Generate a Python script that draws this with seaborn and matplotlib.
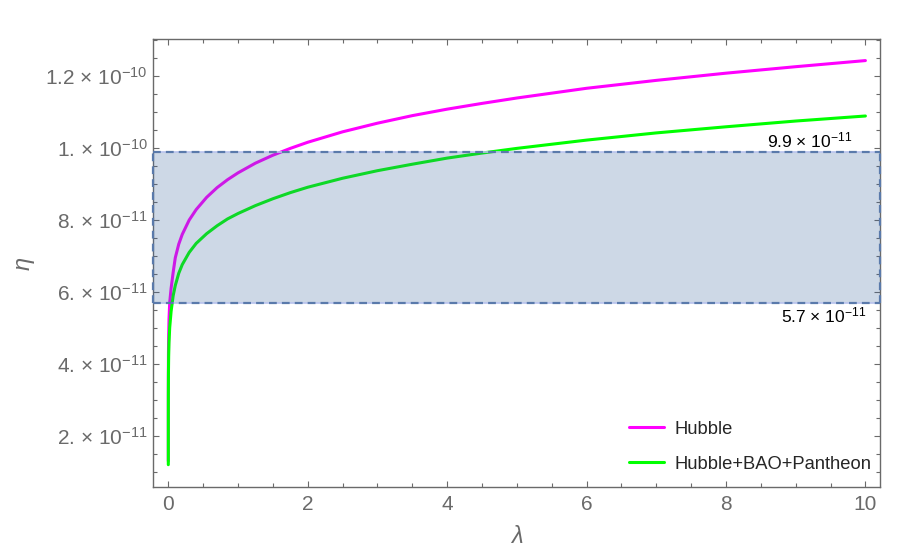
import matplotlib
matplotlib.use("Agg")
import matplotlib.pyplot as plt
from matplotlib.ticker import FixedLocator, FixedFormatter, MultipleLocator
import pandas as pd
import seaborn as sns

# values (eta in units of 1e-11)
lam = [0.0, 0.0001, 0.0005, 0.002, 0.005, 0.01, 0.02, 0.04, 0.07, 0.1, 0.15, 0.2,
       0.3, 0.4, 0.55, 0.7, 0.85, 1.0, 1.25, 1.5, 1.75, 2.0, 2.5, 3.0, 3.5, 4.0,
       4.5, 5.0, 6.0, 7.0, 8.0, 9.0, 10.0]
eta_hubble = [1.3, 2.95, 3.6, 4.28, 4.8, 5.24, 5.71, 6.1, 6.55, 6.95, 7.33, 7.6,
              8.0, 8.29, 8.63, 8.9, 9.12, 9.31, 9.58, 9.8, 9.99, 10.16, 10.45, 10.69, 10.9, 11.08,
              11.24, 11.39, 11.66, 11.88, 12.08, 12.26, 12.43]
eta_joint = [1.2, 2.58, 3.16, 3.76, 4.21, 4.59, 5.01, 5.46, 5.9, 6.18, 6.52, 6.76,
             7.1, 7.35, 7.62, 7.84, 8.03, 8.18, 8.4, 8.59, 8.76, 8.91, 9.16, 9.37, 9.55, 9.72,
             9.86, 9.99, 10.22, 10.42, 10.59, 10.75, 10.89]
series_names = ["Hubble", "Hubble+BAO+Pantheon"]
series_colors = ["#FF00FF", "#00FF00"]

band_low = 5.7e-11
band_high = 9.9e-11
band_labels = ["5.7 \u00d7 10$^{-11}$", "9.9 \u00d7 10$^{-11}$"]

x_ticks = [0, 2, 4, 6, 8, 10]
y_ticks = [2e-11, 4e-11, 6e-11, 8e-11, 1e-10, 1.2e-10]
y_tick_labels = ["2. \u00d7 10$^{-11}$", "4. \u00d7 10$^{-11}$", "6. \u00d7 10$^{-11}$",
                 "8. \u00d7 10$^{-11}$", "1. \u00d7 10$^{-10}$", "1.2 \u00d7 10$^{-10}$"]

df = pd.DataFrame({
    "lambda": lam + lam,
    "eta": [v * 1e-11 for v in eta_hubble] + [v * 1e-11 for v in eta_joint],
    "series": [series_names[0]] * len(lam) + [series_names[1]] * len(lam),
})

sns.set_style("ticks")
plt.rcParams["font.family"] = ["Liberation Sans", "DejaVu Sans"]
plt.rcParams["mathtext.fontset"] = "custom"
plt.rcParams["mathtext.rm"] = "Liberation Sans"
plt.rcParams["mathtext.it"] = "Liberation Sans:italic"
plt.rcParams["mathtext.default"] = "regular"

gray = "#6a6a6a"
fig = plt.figure(figsize=(9.17, 5.57), dpi=100)
ax = fig.add_axes([0.1672, 0.1257, 0.7925, 0.8043])

sns.lineplot(data=df, x="lambda", y="eta", hue="series",
             palette=dict(zip(series_names, series_colors)),
             estimator=None, linewidth=2.2, ax=ax, zorder=2)

# shaded band drawn on top of the curves, like the original
ax.axhspan(band_low, band_high, facecolor=(0.23, 0.40, 0.61, 0.25),
           edgecolor="none", zorder=3)
for yv in [band_low, band_high]:
    ax.axhline(yv, color="#b9c3ee", lw=1.2, zorder=3.5)
    ax.axhline(yv, color="#5a7aab", lw=1.6, ls=(0, (3.5, 2.3)), zorder=4)
for xv in [0.0, 1.0]:
    ax.plot([xv, xv], [band_low, band_high], transform=ax.get_yaxis_transform(),
            color="#5a7aab", lw=1.6, ls=(0, (3.5, 2.3)), zorder=4, clip_on=False)

ax.text(9.82, 10.22e-11, band_labels[1], ha="right", va="center", fontsize=12.5, color="black")
ax.text(10.02, 5.36e-11, band_labels[0], ha="right", va="center", fontsize=12.5, color="black")

ax.set_xlim(-0.215, 10.21)
ax.set_ylim(0.58e-11, 1.303e-10)

ax.xaxis.set_major_locator(FixedLocator(x_ticks))
ax.xaxis.set_minor_locator(MultipleLocator(0.5))
ax.yaxis.set_major_locator(FixedLocator(y_ticks))
ax.yaxis.set_major_formatter(FixedFormatter(y_tick_labels))
ax.yaxis.set_minor_locator(MultipleLocator(0.5e-11))

ax.tick_params(which="both", direction="in", top=True, right=True, color=gray,
               labelcolor=gray, width=0.8)
ax.tick_params(which="major", length=4.5, labelsize=15)
ax.tick_params(which="minor", length=2.6)
ax.tick_params(axis="x", which="major", pad=6)
ax.tick_params(axis="y", which="major", pad=4)
for sp in ax.spines.values():
    sp.set_color(gray)
    sp.set_linewidth(1.0)

ax.set_xlabel("\u03bb", fontsize=17, color=gray, style="italic", labelpad=8)
ax.set_ylabel("\u03b7", fontsize=17, color=gray, style="italic", labelpad=8)

handles, labels = ax.get_legend_handles_labels()
ax.get_legend().remove()
fig.legend(handles, labels, loc="center left", bbox_to_anchor=(0.686, 0.198),
           frameon=False, fontsize=13.2, handlelength=1.9, handletextpad=0.6,
           labelspacing=1.0, borderpad=0, borderaxespad=0)

fig.savefig("out.png", dpi=100)
